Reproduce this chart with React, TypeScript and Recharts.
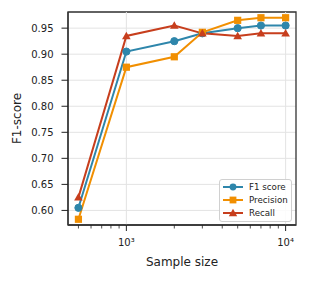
import React from 'react';
import {
  LineChart, Line, XAxis, YAxis, CartesianGrid, ReferenceLine, ReferenceArea, Label,
} from 'recharts';

const sampleSizes = [500, 1000, 2000, 3000, 5000, 7000, 10000];
const f1Score = [0.605, 0.905, 0.925, 0.94, 0.95, 0.955, 0.955];
const precision = [0.583, 0.875, 0.895, 0.942, 0.965, 0.97, 0.97];
const recall = [0.625, 0.935, 0.955, 0.94, 0.935, 0.94, 0.94];

const xTicks = [500, 600, 700, 800, 900, 1000, 2000, 3000, 4000, 5000, 6000, 7000, 8000, 9000, 10000];
const xMajorLabels: Record<number, string> = { 1000: '10³', 10000: '10⁴' };
const yTicks = [0.6, 0.65, 0.7, 0.75, 0.8, 0.85, 0.9, 0.95];
const xDomain = [430, 11620];
const yDomain = [0.572, 0.981];

const C_F1 = '#2E86AB';
const C_P = '#F18F01';
const C_R = '#C73E1D';
const FONT = 'DejaVu Sans, sans-serif';

const data = sampleSizes.map((s, i) => ({ s, f1: f1Score[i], p: precision[i], r: recall[i] }));

const XTick = (props: any) => {
  const { x, y, payload } = props;
  const label = xMajorLabels[payload.value];
  const major = !!label;
  return (
    <g>
      <line x1={x} x2={x} y1={y} y2={y + (major ? 6 : 3.5)} stroke="#222" strokeWidth={major ? 1 : 0.8} />
      {major && (
        <text x={x} y={y + 18} textAnchor="middle" dominantBaseline="middle" fontSize={10} fill="#222" fontFamily={FONT}>
          {label}
        </text>
      )}
    </g>
  );
};

const circleDot = (props: any) => {
  const { cx, cy, index } = props;
  return <circle key={`c${index}`} cx={cx} cy={cy} r={3.6} fill={C_F1} stroke={C_F1} />;
};
const squareDot = (props: any) => {
  const { cx, cy, index } = props;
  return <rect key={`s${index}`} x={cx - 3.6} y={cy - 3.6} width={7.2} height={7.2} fill={C_P} />;
};
const triDot = (props: any) => {
  const { cx, cy, index } = props;
  const h = 4.3;
  return <polygon key={`t${index}`} points={`${cx},${cy - h} ${cx - h},${cy + h * 0.75} ${cx + h},${cy + h * 0.75}`} fill={C_R} />;
};

const legendItems = [
  { name: 'F1 score', color: C_F1, shape: 'circle' },
  { name: 'Precision', color: C_P, shape: 'square' },
  { name: 'Recall', color: C_R, shape: 'tri' },
];

const LegendBox = () => (
  <div style={{
    position: 'absolute', left: 219, top: 179,
    background: 'rgba(255,255,255,0.85)', border: '1px solid #d0d0d0', borderRadius: 3,
    width: 73, height: 43, boxSizing: 'border-box', padding: '1px 0 0 2px', fontFamily: FONT,
  }}>
    {legendItems.map((it) => (
      <div key={it.name} style={{ display: 'flex', alignItems: 'center', height: 12.8 }}>
        <svg width={22} height={10} style={{ display: 'block' }}>
          <line x1={1} x2={21} y1={5} y2={5} stroke={it.color} strokeWidth={2} />
          {it.shape === 'circle' && <circle cx={11} cy={5} r={3.4} fill={it.color} />}
          {it.shape === 'square' && <rect x={7.6} y={1.6} width={6.8} height={6.8} fill={it.color} />}
          {it.shape === 'tri' && <polygon points="11,0.8 6.8,8.2 15.2,8.2" fill={it.color} />}
        </svg>
        <span style={{ fontSize: 8.7, color: '#222', marginLeft: 5, lineHeight: '10px', whiteSpace: 'nowrap' }}>{it.name}</span>
      </div>
    ))}
  </div>
);

export default function App() {
  return (
    <div style={{ position: 'absolute', left: 0, top: 0, width: 309, height: 281, background: '#fff' }}>
      <LineChart width={309} height={281} data={data} margin={{ top: 12, right: 13, left: 0, bottom: 0 }}>
        <CartesianGrid vertical={false} stroke="#e3e3e3" strokeWidth={1} />
        <ReferenceLine x={1000} stroke="#e3e3e3" strokeWidth={1} />
        <ReferenceLine x={10000} stroke="#e3e3e3" strokeWidth={1} />
        <XAxis
          dataKey="s"
          type="number"
          scale="log"
          domain={xDomain}
          allowDataOverflow
          ticks={xTicks}
          interval={0}
          height={56}
          tickSize={0}
          tickMargin={0}
          tickLine={false}
          tick={<XTick />}
          axisLine={{ stroke: '#333', strokeWidth: 1.3 }}
        >
          <Label
            content={({ viewBox }: any) => (
              <text
                x={viewBox.x + viewBox.width / 2}
                y={viewBox.y + 37}
                textAnchor="middle"
                dominantBaseline="middle"
                fontSize={12}
                fill="#222"
                fontFamily={FONT}
              >
                Sample size
              </text>
            )}
          />
        </XAxis>
        <YAxis
          type="number"
          domain={yDomain}
          allowDataOverflow
          ticks={yTicks}
          interval={0}
          width={68}
          tickSize={6.5}
          tickMargin={8}
          tickFormatter={(v: number) => v.toFixed(2)}
          tick={{ fontSize: 10, fill: '#222', fontFamily: FONT }}
          tickLine={{ stroke: '#222', strokeWidth: 1 }}
          axisLine={{ stroke: '#333', strokeWidth: 1.3 }}
        >
          <Label
            content={({ viewBox }: any) => {
              const cx = viewBox.x + 17;
              const cy = viewBox.y + viewBox.height / 2;
              return (
                <text
                  x={cx}
                  y={cy}
                  transform={`rotate(-90 ${cx} ${cy})`}
                  textAnchor="middle"
                  dominantBaseline="middle"
                  fontSize={12}
                  fill="#222"
                  fontFamily={FONT}
                >
                  F1-score
                </text>
              );
            }}
          />
        </YAxis>
        <Line dataKey="f1" name="F1 score" stroke={C_F1} strokeWidth={2} dot={circleDot} isAnimationActive={false} />
        <Line dataKey="p" name="Precision" stroke={C_P} strokeWidth={2} dot={squareDot} isAnimationActive={false} />
        <Line dataKey="r" name="Recall" stroke={C_R} strokeWidth={2} dot={triDot} isAnimationActive={false} />
        <ReferenceArea
          x1={xDomain[0]} x2={xDomain[1]} y1={yDomain[0]} y2={yDomain[1]}
          fill="none" fillOpacity={0} stroke="#333" strokeWidth={1.3} ifOverflow="visible"
        />
      </LineChart>
      <LegendBox />
    </div>
  );
}
